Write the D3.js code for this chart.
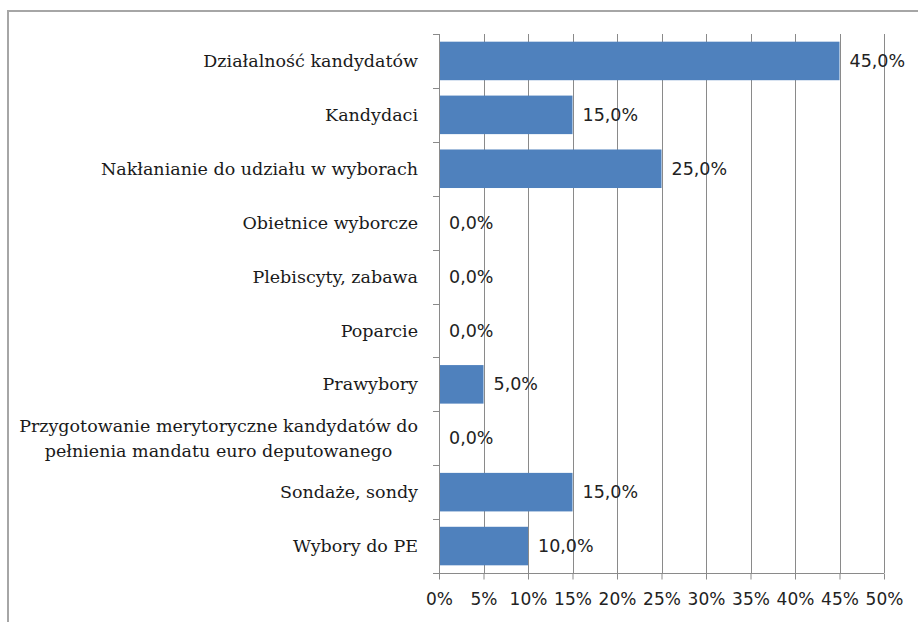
<!DOCTYPE html>
<html>
<head>
<meta charset="utf-8">
<script src="https://cdn.jsdelivr.net/npm/d3@7"></script>
<style>
  html, body { margin: 0; padding: 0; background: #fff; }
  svg { display: block; }
</style>
</head>
<body>
<svg id="chart" width="918" height="622"></svg>
<script>
// Response categories (top to bottom) and their shares
const categories = [
  "Działalność kandydatów",
  "Kandydaci",
  "Nakłanianie do udziału w wyborach",
  "Obietnice wyborcze",
  "Plebiscyty, zabawa",
  "Poparcie",
  "Prawybory",
  "Przygotowanie merytoryczne kandydatów do\npełnienia mandatu euro deputowanego",
  "Sondaże, sondy",
  "Wybory do PE"
];
const values = [0.45, 0.15, 0.25, 0, 0, 0, 0.05, 0, 0.15, 0.10];
const xTicks = [0, 0.05, 0.10, 0.15, 0.20, 0.25, 0.30, 0.35, 0.40, 0.45, 0.50];

const svg = d3.select("#chart");
const plot = { left: 439, right: 884, top: 34, bottom: 573 };

// outer frame of the chart
svg.append("rect")
  .attr("x", 8).attr("y", 11)
  .attr("width", 940).attr("height", 640)
  .attr("fill", "#fff")
  .attr("stroke", "#a6a6a6")
  .attr("stroke-width", 2);

const x = d3.scaleLinear().domain([0, 0.5]).range([plot.left, plot.right]);
const y = d3.scaleBand().domain(categories).range([plot.top, plot.bottom])
  .paddingInner(0.285).paddingOuter(0.1425);

const gridColor = "#8a8a8a";

// vertical gridlines
svg.append("g").selectAll("line")
  .data(xTicks.slice(1))
  .join("line")
  .attr("x1", d => Math.round(x(d)) + 0.5).attr("x2", d => Math.round(x(d)) + 0.5)
  .attr("y1", plot.top).attr("y2", plot.bottom)
  .attr("stroke", gridColor).attr("stroke-width", 1);

// bars
svg.append("g").selectAll("rect")
  .data(values)
  .join("rect")
  .attr("x", x(0))
  .attr("y", (d, i) => y(categories[i]))
  .attr("width", d => x(d) - x(0))
  .attr("height", y.bandwidth())
  .attr("fill", "#4f81bd");

// value labels
svg.append("g").selectAll("text")
  .data(values)
  .join("text")
  .attr("x", d => x(d) + 10)
  .attr("y", (d, i) => y(categories[i]) + y.bandwidth() / 2)
  .attr("dy", "0.35em")
  .attr("font-family", "'DejaVu Sans', sans-serif")
  .attr("font-size", 17.5)
  .attr("fill", "#222")
  .text(d => d3.format(".1f")(d * 100).replace(".", ",") + "%");

// category axis: line with ticks on band boundaries
const step = y.step();
const y0 = y.range()[0];
const axisG = svg.append("g");
axisG.append("line")
  .attr("x1", plot.left + 0.5).attr("x2", plot.left + 0.5)
  .attr("y1", plot.top).attr("y2", plot.bottom)
  .attr("stroke", gridColor);
axisG.selectAll("line.tick")
  .data(d3.range(categories.length + 1))
  .join("line")
  .attr("class", "tick")
  .attr("x1", plot.left - 6).attr("x2", plot.left)
  .attr("y1", i => Math.round(y0 + i * step) + 0.5)
  .attr("y2", i => Math.round(y0 + i * step) + 0.5)
  .attr("stroke", gridColor);

// category labels, multi-line ones centered on their longest line
const labelRight = plot.left - 21;
categories.forEach((c, i) => {
  const lines = c.split("\n");
  const cy = y(c) + y.bandwidth() / 2;
  const lh = 25;
  const t = svg.append("text")
    .attr("font-family", "'DejaVu Serif', serif")
    .attr("font-size", 17.5)
    .attr("fill", "#1a1a1a");
  lines.forEach((ln, k) => {
    t.append("tspan")
      .attr("y", cy + (k - (lines.length - 1) / 2) * lh)
      .attr("dy", "0.35em")
      .text(ln);
  });
  if (lines.length === 1) {
    t.attr("text-anchor", "end").selectAll("tspan").attr("x", labelRight);
  } else {
    const w = d3.max(t.selectAll("tspan").nodes(), n => n.getComputedTextLength());
    t.attr("text-anchor", "middle").selectAll("tspan").attr("x", labelRight - w / 2);
  }
});

// value axis at the bottom
const xAxis = d3.axisBottom(x)
  .tickValues(xTicks)
  .tickSize(6)
  .tickPadding(13)
  .tickFormat(d3.format(".0%"));
const gx = svg.append("g")
  .attr("transform", `translate(0,${plot.bottom + 0.5})`)
  .call(xAxis);
gx.select(".domain").attr("stroke", gridColor).attr("d", `M${plot.left - 6},0H${plot.right}`);
gx.selectAll(".tick line").attr("stroke", gridColor);
gx.selectAll(".tick text")
  .attr("font-family", "'DejaVu Sans', sans-serif")
  .attr("font-size", 17)
  .attr("fill", "#222");
</script>
</body>
</html>
